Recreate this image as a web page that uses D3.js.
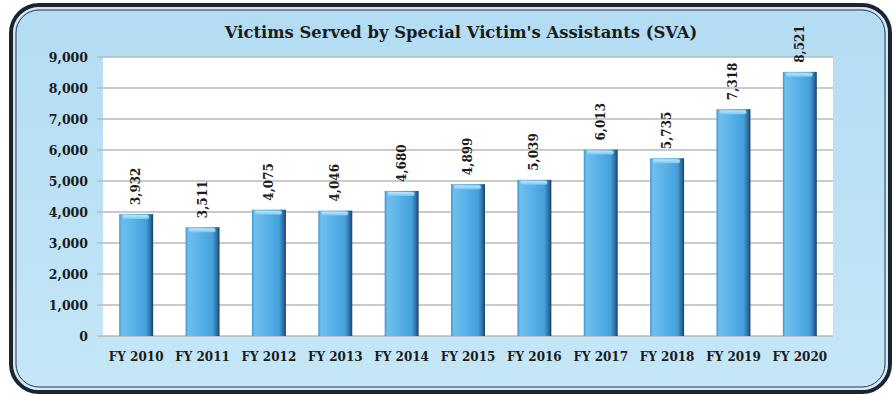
<!DOCTYPE html>
<html><head><meta charset="utf-8">
<script src="https://cdn.jsdelivr.net/npm/d3@7"></script>
<style>
  body{margin:0;background:#fff}
  text{font-family:"DejaVu Serif","Liberation Serif",serif;font-weight:bold;fill:#1b1b1b}
</style>
</head><body>
<svg id="chart" width="894" height="396"></svg>
<script>
// Fiscal years and number of victims served
const years = ["FY 2010","FY 2011","FY 2012","FY 2013","FY 2014","FY 2015","FY 2016","FY 2017","FY 2018","FY 2019","FY 2020"];
const victims = [3932, 3511, 4075, 4046, 4680, 4899, 5039, 6013, 5735, 7318, 8521];
const yTicks = [0, 1000, 2000, 3000, 4000, 5000, 6000, 7000, 8000, 9000];
const chartTitle = "Victims Served by Special Victim's Assistants (SVA)";

const svg = d3.select("#chart");
const plot = {left: 103, right: 833, top: 57, bottom: 336};

const defs = svg.append("defs");
const bg = defs.append("linearGradient").attr("id","bg").attr("x1",0).attr("y1",0).attr("x2",0).attr("y2",1);
bg.append("stop").attr("offset","0%").attr("stop-color","#b3dcf3");
bg.append("stop").attr("offset","100%").attr("stop-color","#c5e7f8");

const barGrad = defs.append("linearGradient").attr("id","barGrad").attr("x1",0).attr("y1",0).attr("x2",1).attr("y2",0);
[["0%","#3f97d3"],["8%","#6fbeec"],["45%","#57b1e8"],["80%","#459fd9"],["92%","#2e6fa6"],["100%","#1b3f63"]]
  .forEach(([o,c]) => barGrad.append("stop").attr("offset",o).attr("stop-color",c));

const capGrad = defs.append("linearGradient").attr("id","capGrad").attr("x1",0).attr("y1",0).attr("x2",0).attr("y2",1);
capGrad.append("stop").attr("offset","0%").attr("stop-color","#bfe8fb");
capGrad.append("stop").attr("offset","100%").attr("stop-color","#7cc7f0");

// Frame: dark outer rim, pale inner line, thin dark line
svg.append("rect").attr("x",11).attr("y",5).attr("width",879).attr("height",387)
  .attr("rx",28).attr("fill","url(#bg)").attr("stroke","#1a2534").attr("stroke-width",4);
svg.append("rect").attr("x",14).attr("y",8).attr("width",873).attr("height",381)
  .attr("rx",25).attr("fill","none").attr("stroke","#dfe7ee").attr("stroke-width",1.5);
svg.append("rect").attr("x",16).attr("y",10).attr("width",869).attr("height",377)
  .attr("rx",23).attr("fill","none").attr("stroke","#2b3a4c").attr("stroke-width",1);

const x = d3.scaleBand().domain(years).range([plot.left, plot.right])
  .paddingInner(0.488).paddingOuter(0.244);
const y = d3.scaleLinear().domain([0, 9000]).range([plot.bottom, plot.top]);

// Plot area
svg.append("rect").attr("x",plot.left).attr("y",plot.top)
  .attr("width",plot.right-plot.left).attr("height",plot.bottom-plot.top).attr("fill","#ffffff");

// Gridlines
svg.append("g").selectAll("line").data(yTicks).join("line")
  .attr("x1",plot.left-6).attr("x2",plot.right)
  .attr("y1",d=>y(d)).attr("y2",d=>y(d))
  .attr("stroke","#b9b9b9").attr("stroke-width",1.5);

// Y axis labels
const yAxis = svg.append("g").attr("transform",`translate(${plot.left},0)`)
  .call(d3.axisLeft(y).tickValues(yTicks).tickFormat(d3.format(",")).tickSize(0).tickPadding(15));
yAxis.select(".domain").remove();
yAxis.selectAll("text").style("font-size","12.5px").attr("fill","#1b1b1b");

// X axis labels
const xAxis = svg.append("g").attr("transform",`translate(0,${plot.bottom})`)
  .call(d3.axisBottom(x).tickSize(0).tickPadding(16));
xAxis.select(".domain").remove();
xAxis.selectAll("text").style("font-size","12px").attr("fill","#1b1b1b");

// Bars
const bars = svg.append("g").selectAll("g").data(victims).join("g");
bars.append("rect")
  .attr("x",(d,i)=>x(years[i])).attr("y",d=>y(d))
  .attr("width",x.bandwidth()).attr("height",d=>y(0)-y(d))
  .attr("fill","url(#barGrad)");
bars.append("rect")
  .attr("x",(d,i)=>x(years[i])+3).attr("y",d=>y(d)+1)
  .attr("width",x.bandwidth()-7).attr("height",4).attr("rx",2)
  .attr("fill","url(#capGrad)");

// Value labels
svg.append("g").selectAll("text").data(victims).join("text")
  .attr("transform",(d,i)=>`translate(${x(years[i])+x.bandwidth()/2+4},${y(d)-9}) rotate(-90)`)
  .style("font-size","12px")
  .text(d=>d3.format(",")(d));

// Title
svg.append("text").attr("x",461).attr("y",38).attr("text-anchor","middle")
  .style("font-size","16.4px").text(chartTitle);
</script>
</body></html>
